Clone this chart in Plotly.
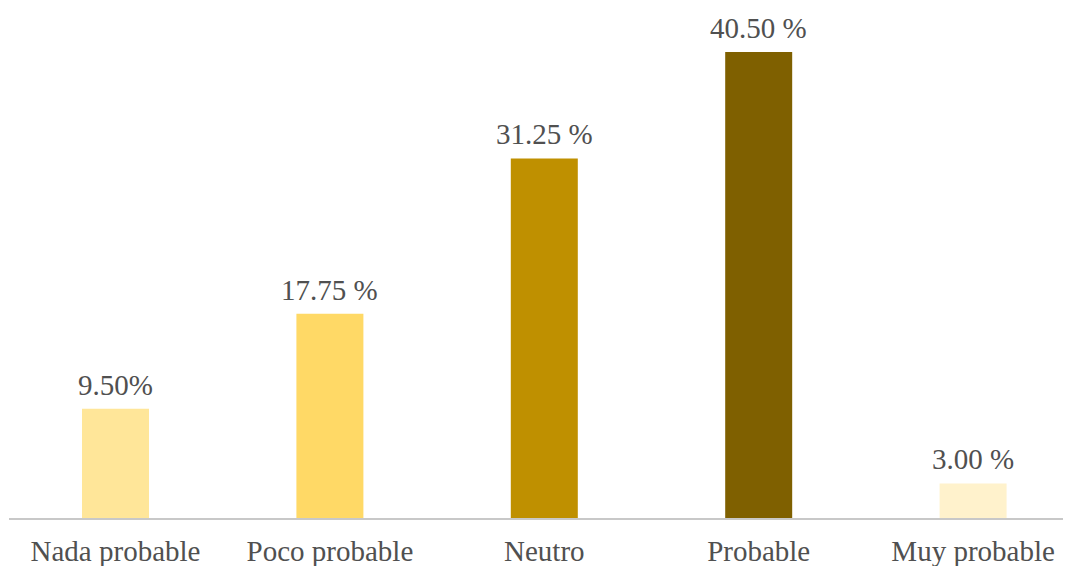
import plotly.graph_objects as go

categories = ["Nada probable", "Poco probable", "Neutro", "Probable", "Muy probable"]
values = [9.50, 17.75, 31.25, 40.50, 3.00]
value_labels = ["9.50%", "17.75 %", "31.25 %", "40.50 %", "3.00 %"]
bar_colors = ["#FFE699", "#FFD966", "#BF9000", "#7F6000", "#FFF2CC"]

positions = list(range(len(categories)))
FONT = "Liberation Serif"
TXT = "#505050"

fig = go.Figure(go.Bar(
    x=positions,
    y=values,
    width=0.3125,
    marker=dict(color=bar_colors, line=dict(width=0)),
    hoverinfo="skip",
))

for p, v, lab in zip(positions, values, value_labels):
    fig.add_annotation(
        x=p, y=v, text=lab, showarrow=False,
        xanchor="center", yanchor="bottom", yshift=6,
        font=dict(family=FONT, size=29, color=TXT),
    )

fig.update_layout(
    width=1071,
    height=566,
    margin=dict(l=1, r=0, t=2, b=56),
    paper_bgcolor="white",
    plot_bgcolor="white",
    showlegend=False,
    xaxis=dict(
        range=[-0.4968, 4.494],
        tickvals=positions,
        ticktext=categories,
        showgrid=False,
        zeroline=False,
        showline=True,
        linecolor="#C8C8C8",
        linewidth=1.5,
        ticks="",
        ticklabelstandoff=6,
        tickfont=dict(family=FONT, size=29, color=TXT),
    ),
    yaxis=dict(
        range=[0, 44.15],
        visible=False,
        showgrid=False,
        zeroline=False,
    ),
)

fig.write_html("out.html")
